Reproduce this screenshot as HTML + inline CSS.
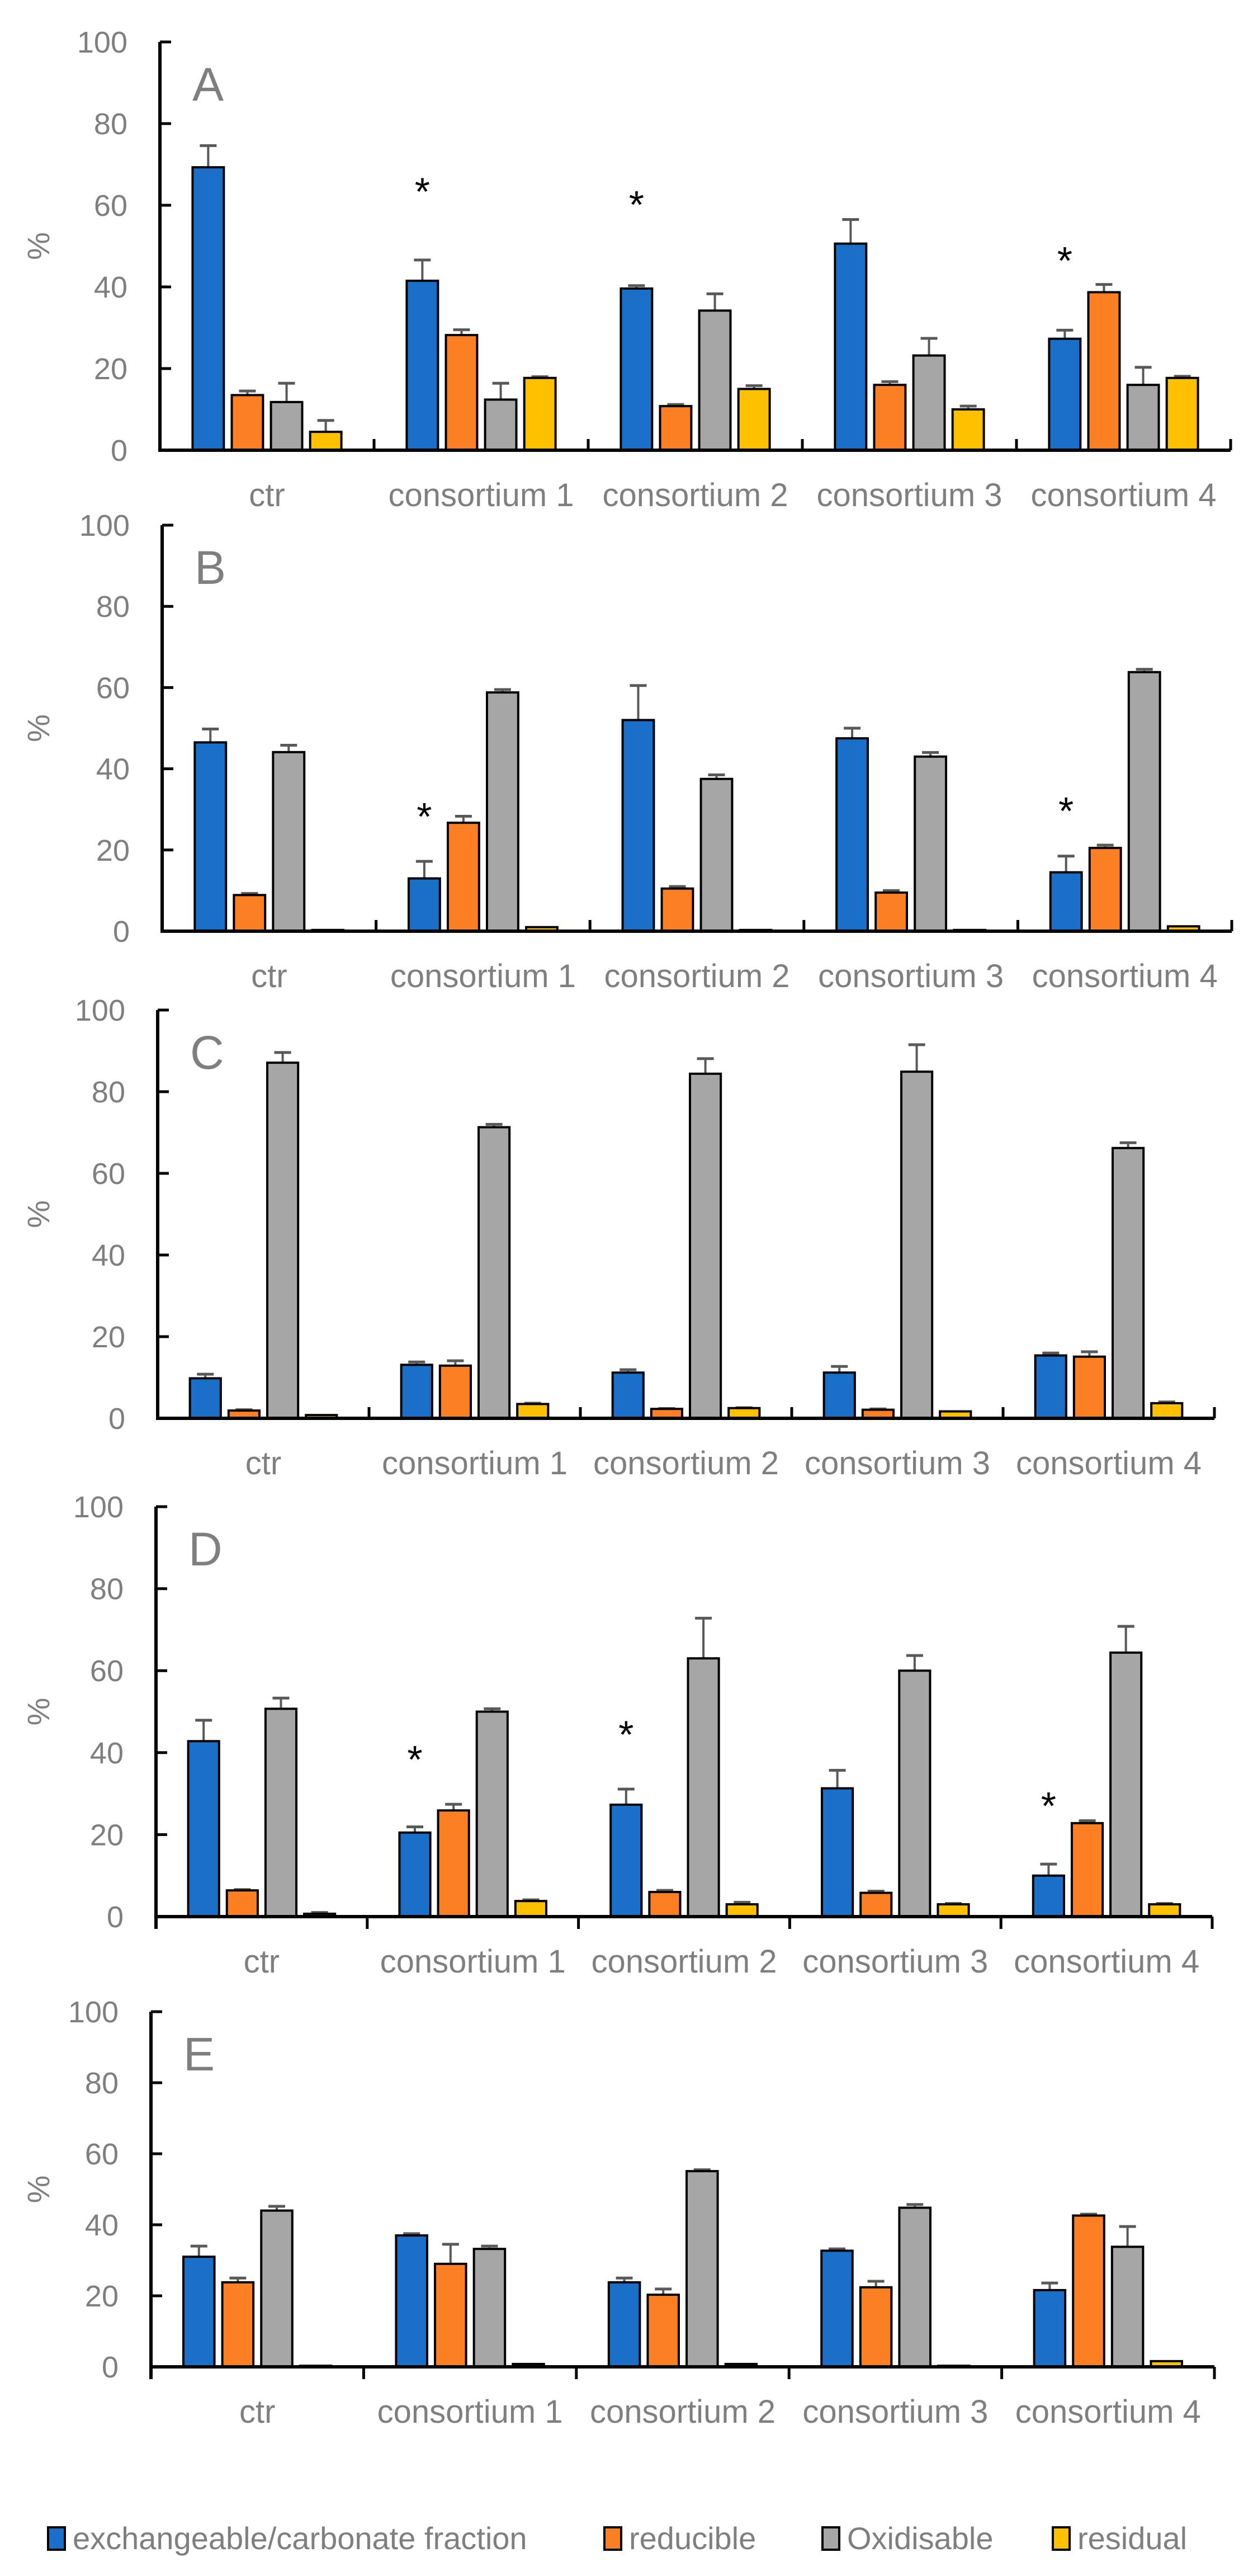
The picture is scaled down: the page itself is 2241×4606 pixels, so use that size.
<!DOCTYPE html>
<html><head><meta charset="utf-8"><style>
html,body{margin:0;padding:0;background:#fff;}
svg{display:block;}
text{font-family:"Liberation Sans",sans-serif;}
</style></head>
<body>
<svg id="chart" width="2241" height="4606" viewBox="0 0 2241 4606" xmlns="http://www.w3.org/2000/svg"></svg>
<script>
const categories = ["ctr","consortium 1","consortium 2","consortium 3","consortium 4"];
const seriesNames = ["exchangeable/carbonate fraction","reducible","Oxidisable","residual"];
const tickLabels = [0,20,40,60,80,100];
const panelLetters = ["A","B","C","D","E"];

const A_exch = [69.3,41.5,39.6,50.6,27.3];
const A_exchErr = [74.6,46.6,40.3,56.5,29.4];
const A_red = [13.5,28.2,10.8,16,38.7];
const A_redErr = [14.5,29.5,11.2,16.8,40.6];
const A_oxi = [11.8,12.4,34.2,23.2,16];
const A_oxiErr = [16.4,16.4,38.3,27.4,20.3];
const A_res = [4.5,17.7,15,10,17.7];
const A_resErr = [7.3,18,15.8,10.8,18.1];
const A_stars = [null,64.7,61.5,null,47.8];

const B_exch = [46.5,13,52,47.5,14.5];
const B_exchErr = [49.8,17.2,60.5,50,18.5];
const B_red = [8.9,26.7,10.5,9.5,20.5];
const B_redErr = [9.3,28.3,11,10,21.2];
const B_oxi = [44.1,58.8,37.5,43,63.8];
const B_oxiErr = [45.8,59.5,38.5,44,64.5];
const B_res = [0.3,1,0.3,0.3,1.2];
const B_resErr = [0.3,1,0.3,0.3,1.2];
const B_stars = [null,29.6,null,null,31];

const C_exch = [9.8,13.1,11.2,11.2,15.4];
const C_exchErr = [10.8,13.8,11.9,12.7,16];
const C_red = [1.9,12.9,2.3,2.1,15.1];
const C_redErr = [2.1,14.1,2.4,2.3,16.3];
const C_oxi = [87.1,71.3,84.4,84.9,66.2];
const C_oxiErr = [89.6,72,88.1,91.5,67.5];
const C_res = [0.8,3.5,2.5,1.7,3.7];
const C_resErr = [0.8,3.7,2.6,1.7,4];
const C_stars = [null,null,null,null,null];

const D_exch = [42.8,20.5,27.3,31.3,10];
const D_exchErr = [47.9,21.9,31.1,35.7,12.8];
const D_red = [6.4,25.9,6,5.8,22.8];
const D_redErr = [6.6,27.4,6.4,6.2,23.4];
const D_oxi = [50.7,50,63,60,64.4];
const D_oxiErr = [53.3,50.7,72.8,63.7,70.8];
const D_res = [0.7,3.8,3,3,3];
const D_resErr = [1,4.1,3.5,3.2,3.2];
const D_stars = [null,39.7,45.8,null,28.4];

const E_exch = [31,37,23.8,32.7,21.6];
const E_exchErr = [34,37.5,25,33.2,23.6];
const E_red = [23.8,29,20.3,22.4,42.6];
const E_redErr = [25,34.5,21.9,24.1,43];
const E_oxi = [44,33.2,55.1,44.8,33.8];
const E_oxiErr = [45.2,34,55.5,45.7,39.5];
const E_res = [0.3,0.8,0.8,0.3,1.6];
const E_resErr = [0.3,0.8,0.8,0.3,1.6];
const E_stars = [null,null,null,null,null];

const panelValues = [
  [[A_exch,A_exchErr],[A_red,A_redErr],[A_oxi,A_oxiErr],[A_res,A_resErr]],
  [[B_exch,B_exchErr],[B_red,B_redErr],[B_oxi,B_oxiErr],[B_res,B_resErr]],
  [[C_exch,C_exchErr],[C_red,C_redErr],[C_oxi,C_oxiErr],[C_res,C_resErr]],
  [[D_exch,D_exchErr],[D_red,D_redErr],[D_oxi,D_oxiErr],[D_res,D_resErr]],
  [[E_exch,E_exchErr],[E_red,E_redErr],[E_oxi,E_oxiErr],[E_res,E_resErr]]
];
const panelStars = [A_stars,B_stars,C_stars,D_stars,E_stars];

const colors = ["#1a70c8","#fd7f23","#a6a6a6","#ffc000"];
const layout = [
  {top:75, zero:805, x0:286, x1:2201, down:false},
  {top:939, zero:1665, x0:290, x1:2203, down:false},
  {top:1806, zero:2536, x0:282, x1:2172, down:false},
  {top:2694, zero:3427, x0:279, x1:2168, down:true},
  {top:3597, zero:4232, x0:270, x1:2172, down:true}
];

const NS = "http://www.w3.org/2000/svg";
const svg = document.getElementById("chart");
function mk(tag, attrs, parent){
  const e = document.createElementNS(NS, tag);
  for (const k in attrs) e.setAttribute(k, attrs[k]);
  (parent||svg).appendChild(e);
  return e;
}

layout.forEach((L, p) => {
  const g = mk("g", {});
  
  
  const yScale = v => L.zero - (v/100)*(L.zero - L.top);
  const W = (L.x1 - L.x0)/categories.length;
  const xCat = i => L.x0 + W*i;
  const pitch = W*0.183, bw = W*0.146;

  tickLabels.forEach(t => {
    const y = yScale(t);
    const tk = mk("line", {x1:L.x0, x2:L.x0+20, y1:y, y2:y, stroke:"#000", "stroke-width":5}, g);
    
    
    const tl = mk("text", {x:L.x0-58, y:y+19, "text-anchor":"end", "font-size":54, fill:"#7f7f7f"}, g);
    tl.textContent = t;
    
    
  });
  const yl = mk("text", {x:0, y:0, "text-anchor":"middle", "font-size":56, fill:"#7f7f7f", transform:`translate(88,${(L.top+L.zero)/2}) rotate(-90)`}, g);
  yl.textContent = "%";
  
  

  const letter = mk("text", {x:L.x0+58, y:L.top+105, "font-size":84, fill:"#7f7f7f"}, g);
  letter.textContent = panelLetters[p];
  
  

  categories.forEach((c, i) => {
    const cx = xCat(i) + W/2;
    panelValues[p].forEach((s, k) => {
      const v = s[0][i], e = s[1][i];
      const bx = cx + (k-1.5)*pitch - bw/2;
      const y = yScale(v);
      if (e > v) {
        const el = mk("line", {x1:bx+bw/2, x2:bx+bw/2, y1:y, y2:yScale(e), stroke:"#595959", "stroke-width":4}, g);
        
        
        const cap = mk("line", {x1:bx+bw/2-15, x2:bx+bw/2+15, y1:yScale(e), y2:yScale(e), stroke:"#595959", "stroke-width":5}, g);
        
        
      }
      const r = mk("rect", {x:bx, y:y, width:bw, height:Math.max(L.zero - y, 1), fill:colors[k], stroke:"#000", "stroke-width":4}, g);
      
      
    });
    const st = panelStars[p][i];
    if (st !== null) {
      const t = mk("text", {x:cx - 1.5*pitch, y:yScale(st)+34, "text-anchor":"middle", "font-size":70, fill:"#000"}, g);
      t.textContent = "*";
      
      
    }
    const lab = mk("text", {x:cx, y:L.zero+100, "text-anchor":"middle", "font-size":58, fill:"#7f7f7f"}, g);
    lab.textContent = c;
    
    
  });

  const ax = mk("line", {x1:L.x0, x2:L.x0, y1:L.top, y2:L.zero + (L.down?22:0), stroke:"#000", "stroke-width":6}, g);
  
  
  const xa = mk("line", {x1:L.x0-3, x2:L.x1, y1:L.zero, y2:L.zero, stroke:"#000", "stroke-width":6}, g);
  
  
  for (let i = 1; i <= categories.length; i++) {
    const x = xCat(i);
    const d = mk("line", {x1:x, x2:x, y1:L.zero, y2:L.zero + (L.down?22:-20), stroke:"#000", "stroke-width":5}, g);
    
    
  }
});

const legendX = [86,1081,1471,1883];
const lg = mk("g", {});


seriesNames.forEach((n, k) => {
  const sq = mk("rect", {x:legendX[k], y:4519, width:30, height:40, fill:colors[k], stroke:"#000", "stroke-width":4}, lg);
  
  
  const t = mk("text", {x:legendX[k]+44, y:4558, "font-size":56, fill:"#7f7f7f"}, lg);
  t.textContent = n;
  
  
});
</script>
</body></html>
